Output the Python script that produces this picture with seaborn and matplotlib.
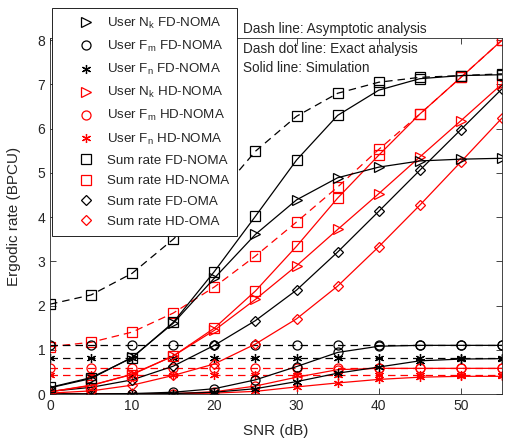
import numpy as np
import pandas as pd
import matplotlib
matplotlib.use('Agg')
import matplotlib.pyplot as plt
from matplotlib.lines import Line2D
import seaborn as sns

# SNR grid (dB)
snr = [0, 5, 10, 15, 20, 25, 30, 35, 40, 45, 50, 55]

# FD-NOMA
nk_fd = [0.14, 0.35, 0.83, 1.60, 2.62, 3.61, 4.39, 4.89, 5.13, 5.27, 5.31, 5.33]
fm_fd = [0.0, 0.0, 0.01, 0.04, 0.12, 0.32, 0.62, 0.94, 1.08, 1.10, 1.10, 1.10]
fn_fd = [0.0, 0.0, 0.0, 0.01, 0.04, 0.12, 0.28, 0.47, 0.61, 0.75, 0.79, 0.80]
fm_fd_asym = [1.11] * 12
fn_fd_asym = [0.81] * 12
sum_fd = [0.15, 0.37, 0.82, 1.62, 2.77, 4.02, 5.29, 6.30, 6.87, 7.13, 7.20, 7.22]
sum_fd_asym = [2.03, 2.24, 2.73, 3.50, 4.40, 5.49, 6.28, 6.80, 7.05, 7.16, 7.20, 7.24]

# HD-NOMA
nk_hd = [0.05, 0.19, 0.45, 0.86, 1.44, 2.14, 2.90, 3.72, 4.53, 5.36, 6.18, 7.01]
fm_hd = [0.0, 0.0, 0.0, 0.01, 0.05, 0.18, 0.38, 0.55, 0.58, 0.58, 0.58, 0.58]
fn_hd = [0.0, 0.0, 0.0, 0.0, 0.02, 0.06, 0.16, 0.25, 0.33, 0.38, 0.40, 0.40]
fm_hd_asym = [0.59] * 12
fn_hd_asym = [0.43] * 12
sum_hd = [0.05, 0.20, 0.44, 0.86, 1.49, 2.33, 3.34, 4.43, 5.40, 6.33, 7.16, 8.00]
sum_hd_asym = [1.07, 1.17, 1.40, 1.83, 2.42, 3.12, 3.89, 4.68, 5.53, 6.33, 7.16, 8.00]

# OMA
sum_fd_oma = [0.06, 0.15, 0.32, 0.63, 1.10, 1.66, 2.35, 3.21, 4.13, 5.06, 5.98, 6.90]
sum_hd_oma = [0.02, 0.07, 0.20, 0.42, 0.68, 1.13, 1.70, 2.44, 3.33, 4.27, 5.25, 6.24]

legend_labels = ['User N$\\mathregular{_k}$ FD-NOMA', 'User F$\\mathregular{_m}$ FD-NOMA',
                 'User F$\\mathregular{_n}$ FD-NOMA', 'User N$\\mathregular{_k}$ HD-NOMA',
                 'User F$\\mathregular{_m}$ HD-NOMA', 'User F$\\mathregular{_n}$ HD-NOMA',
                 'Sum rate FD-NOMA', 'Sum rate HD-NOMA', 'Sum rate FD-OMA', 'Sum rate HD-OMA']

sns.set_style('ticks')
plt.rcParams['font.family'] = ['Liberation Sans', 'DejaVu Sans']
plt.rcParams['mathtext.fontset'] = 'custom'
plt.rcParams['mathtext.rm'] = 'Liberation Sans'
plt.rcParams['mathtext.it'] = 'Liberation Sans'

ast = (6, 2, 0)
dash = (0, (6, 4))
series = [
    (sum_fd_asym, 'k', 's', dash),
    (sum_hd_asym, 'r', 's', dash),
    (fm_fd_asym, 'k', 'o', dash),
    (fn_fd_asym, 'k', ast, dash),
    (fm_hd_asym, 'r', 'o', dash),
    (fn_hd_asym, 'r', ast, dash),
    (fm_hd, 'r', 'o', '-'),
    (fn_hd, 'r', ast, '-'),
    (fm_fd, 'k', 'o', '-'),
    (fn_fd, 'k', ast, '-'),
    (sum_hd_oma, 'r', 'D', '-'),
    (sum_fd_oma, 'k', 'D', '-'),
    (nk_hd, 'r', '>', '-'),
    (sum_hd, 'r', 's', '-'),
    (nk_fd, 'k', '>', '-'),
    (sum_fd, 'k', 's', '-'),
]

fig = plt.figure(figsize=(5.06, 4.41), dpi=100)
ax = fig.add_axes([50/506, 1 - 394/441, 452/506, 356/441])

for vals, c, m, ls in series:
    ms = 5 if m == 'D' else 6.5
    sns.lineplot(x=snr, y=vals, ax=ax, color=c, marker=m, linestyle=ls, lw=0.9,
                 markersize=ms, markerfacecolor='none', markeredgecolor=c,
                 markeredgewidth=0.9)

ax.set_xlim(0, 55)
ax.set_ylim(0, 8.05)
ax.set_xticks([0, 10, 20, 30, 40, 50])
ax.set_yticks(range(0, 9))
ax.tick_params(direction='in', top=True, right=True, length=4, labelsize=10, width=0.6)
for s in ax.spines.values():
    s.set_linewidth(0.6)
ax.set_xlabel('SNR (dB)', fontsize=11, labelpad=8)
ax.set_ylabel('Ergodic rate (BPCU)', fontsize=11, labelpad=12)

handles = []
for c, m in [('k', '>'), ('k', 'o'), ('k', ast), ('r', '>'), ('r', 'o'), ('r', ast),
             ('k', 's'), ('r', 's'), ('k', 'D'), ('r', 'D')]:
    handles.append(Line2D([], [], color=c, marker=m, linestyle='none', markersize=5 if m == 'D' else 6.5,
                          markerfacecolor='none', markeredgecolor=c, markeredgewidth=0.9))
leg = fig.legend(handles, legend_labels, loc='upper left', bbox_to_anchor=(52/506, 1 - 8/441),
                 bbox_transform=fig.transFigure, fancybox=False, edgecolor='black', framealpha=1,
                 fontsize=9.6, labelspacing=0.6, handlelength=3.85, handletextpad=-0.3,
                 borderpad=0.6, borderaxespad=0)
leg.get_frame().set_linewidth(0.6)

for i, t in enumerate(['Dash line: Asymptotic analysis', 'Dash dot line: Exact analysis',
                       'Solid line: Simulation']):
    fig.text(243/506, 1 - (29 + 19.5 * i)/441, t, fontsize=9.8, va='center', ha='left')

fig.savefig('out.png', dpi=100)
